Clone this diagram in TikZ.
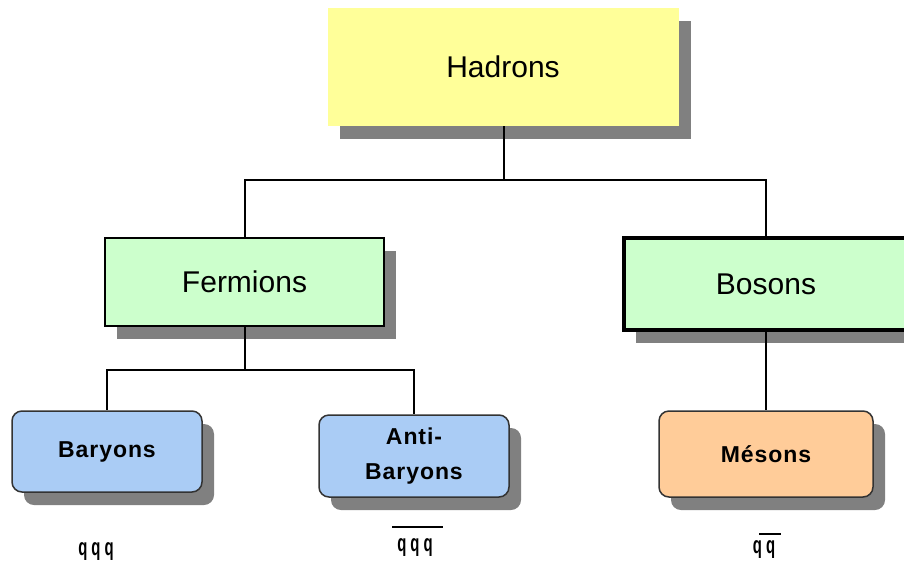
\documentclass[tikz,border=0pt]{standalone}
\usepackage{fontspec}
\setmainfont{Liberation Sans}
\newfontfamily\qfont{Liberation Sans}[FakeStretch=0.62]
\usetikzlibrary{shadows}
\definecolor{hadY}{HTML}{FFFF99}
\definecolor{fermG}{HTML}{CCFFCC}
\definecolor{baryB}{HTML}{AACCF5}
\definecolor{mesO}{HTML}{FFCC99}
\definecolor{shadowG}{HTML}{808080}
\definecolor{rborder}{HTML}{333333}
\tikzset{
  shad/.style={general shadow={fill=shadowG, shadow xshift=12pt, shadow yshift=-13pt}},
  sqbox/.style={shad, draw=black, rectangle, inner sep=0pt, font=\fontsize{30}{36}\selectfont},
  rbox/.style={shad, draw=rborder, line width=1.5pt, rectangle, rounded corners=10pt, inner sep=0pt, align=center, font=\fontsize{23}{35}\selectfont\bfseries\addfontfeature{LetterSpace=4}},
  conn/.style={draw=black, line width=2pt},
  qlab/.style={inner sep=0pt, font=\qfont\bfseries\fontsize{24}{28}\selectfont},
  ovl/.style={draw=black, line width=2pt}
}
\begin{document}
\begin{tikzpicture}[x=1pt,y=-1pt]
\useasboundingbox (0,0) rectangle (904,563);
\fill[white] (0,0) rectangle (904,563);
% boxes
\node[sqbox, fill=hadY, draw=none, minimum width=351pt, minimum height=118pt] (had) at (503,67) {Hadrons};
\node[sqbox, fill=fermG, line width=2.5pt, minimum width=279pt, minimum height=88pt] (fer) at (244.5,282) {Fermions};
\node[sqbox, fill=fermG, line width=3.5pt, minimum width=284pt, minimum height=92pt] (bos) at (766,284) {Bosons};
\node[rbox, fill=baryB, minimum width=190pt, minimum height=81pt] (bar) at (107,451.5) {Baryons};
\node[rbox, fill=baryB, minimum width=190pt, minimum height=82pt] (abar) at (414,456) {Anti-\\Baryons};
\node[rbox, fill=mesO, minimum width=214pt, minimum height=86pt] (mes) at (766,454) {Mésons};
% connectors
\coordinate (j1) at (504,180);
\coordinate (j2) at (246,370);
\draw[conn] (had.south -| j1) -- (j1);
\draw[conn] (j1) -| (fer.north);
\draw[conn] (j1) -| (bos.north);
\draw[conn] (fer.south) -- (fer.south |- j2);
\draw[conn] (fer.south |- j2) -| (bar.north);
\draw[conn] (fer.south |- j2) -| (abar.north);
\draw[conn] (bos.south) -- (mes.north);
% quark content
\node[qlab] (q1) at (96,552) {q\hspace{4pt}q\hspace{4pt}q};
\node[qlab] (q2) at (415,548) {q\hspace{4pt}q\hspace{4pt}q};
\node[qlab] (q3) at (764,550) {q\hspace{4pt}q};
\draw[ovl] ([xshift=-23pt,yshift=12.2pt]q2.north) -- ([xshift=28pt,yshift=12.2pt]q2.north);
\draw[ovl] ([xshift=-5pt,yshift=7.2pt]q3.north) -- ([xshift=17pt,yshift=7.2pt]q3.north);
\end{tikzpicture}
\end{document}
